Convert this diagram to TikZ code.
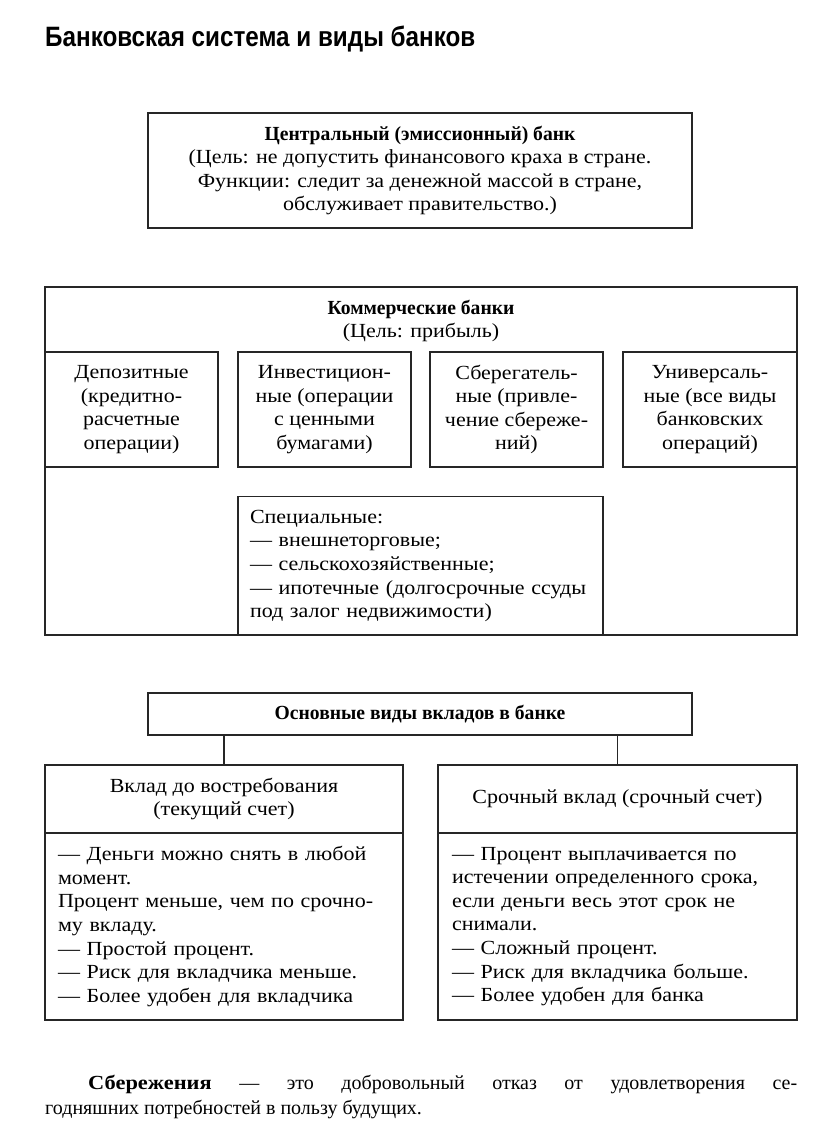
\documentclass[tikz,border=0pt]{standalone}
\usepackage{fontspec}
\setmainfont{Liberation Serif}[UprightFeatures={FakeStretch=1.1}, BoldFeatures={FakeStretch=0.98}]
\newfontfamily\plainfam{Liberation Serif}[BoldFeatures={FakeStretch=1.12}]
\newfontfamily\titlefam{Liberation Sans}[FakeStretch=0.866]
\newcommand\txt{\fontsize{20}{23.6}\selectfont}
\newcommand\ttl{\titlefam\bfseries\fontsize{28}{32}\selectfont}
\tikzset{
  box/.style={draw=black!85, line width=1.6pt, inner sep=0pt, align=center, font=\txt},
  lbox/.style={box, align=left},
  conn/.style={draw=black!85, line width=1.6pt},
}
\begin{document}
\begin{tikzpicture}[x=1pt,y=-1pt]
\useasboundingbox[fill=white] (0,0) rectangle (816,1127);

\node[anchor=base west, font=\ttl, inner sep=0pt] (title) at (45,46) {Банковская система и виды банков};

\node[box, minimum width=544, minimum height=115] (cb) at (420,170.5)
  {\textbf{Центральный (эмиссионный) банк}\\(Цель: не допустить финансового краха в стране.\\Функции: следит за денежной массой в стране,\\обслуживает правительство.)};

\node[box, minimum width=752, minimum height=348] (kb) at (421,461) {};
\node[font=\txt, align=center, inner sep=0pt] (kbt) at (421,321) {\textbf{Коммерческие банки}\\(Цель: прибыль)};

\node[box, minimum width=173, minimum height=115] (dep) at (131.5,409.5) {Депозитные\\(кредитно-\\расчетные\\операции)};
\node[box, minimum width=173, minimum height=115] (inv) at (324.5,409.5) {Инвестицион-\\ные (операции\\с ценными\\бумагами)};
\node[box, minimum width=173, minimum height=115] (sav) at (516.5,409.5) {Сберегатель-\\ные (привле-\\чение сбереже-\\ний)};
\node[box, minimum width=174, minimum height=115] (uni) at (710,409.5) {Универсаль-\\ные (все виды\\банковских\\операций)};

\node[lbox, minimum width=365, minimum height=139, text width=341] (spec) at (420.5,566)
  {Специальные:\\— внешнеторговые;\\— сельскохозяйственные;\\— ипотечные (долгосрочные ссуды\\под залог недвижимости)};

\node[box, minimum width=544, minimum height=42] (vk) at (420,714) {\textbf{Основные виды вкладов в банке}};

\node[box, minimum width=358, minimum height=68] (lh) at (224,799) {Вклад до востребования\\(текущий счет)};
\node[lbox, minimum width=358, minimum height=187, text width=332] (lb) at (224,926.5)
  {— Деньги можно снять в любой\\момент.\\Процент меньше, чем по срочно-\\му вкладу.\\— Простой процент.\\— Риск для вкладчика меньше.\\— Более удобен для вкладчика};

\node[box, minimum width=359, minimum height=68] (rh) at (617.5,799) {Срочный вклад (срочный счет)};
\node[lbox, minimum width=359, minimum height=187, text width=331] (rb) at (617.5,926.5)
  {— Процент выплачивается по\\истечении определенного срока,\\если деньги весь этот срок не\\снимали.\\— Сложный процент.\\— Риск для вкладчика больше.\\— Более удобен для банка};

\draw[conn] (vk.south -| lh.north) -- (lh.north);
\draw[conn] (vk.south -| rh.north) -- (rh.north);

\node[anchor=north west, inner sep=0pt, text width=752, align=justify, font={\plainfam\fontsize{20}{25}\selectfont}] (sb) at (45,1075)
  {\hspace*{43pt}\textbf{Сбережения} — это добровольный отказ от удовлетворения се-\linebreak годняшних потребностей в пользу будущих.};
\end{tikzpicture}
\end{document}
